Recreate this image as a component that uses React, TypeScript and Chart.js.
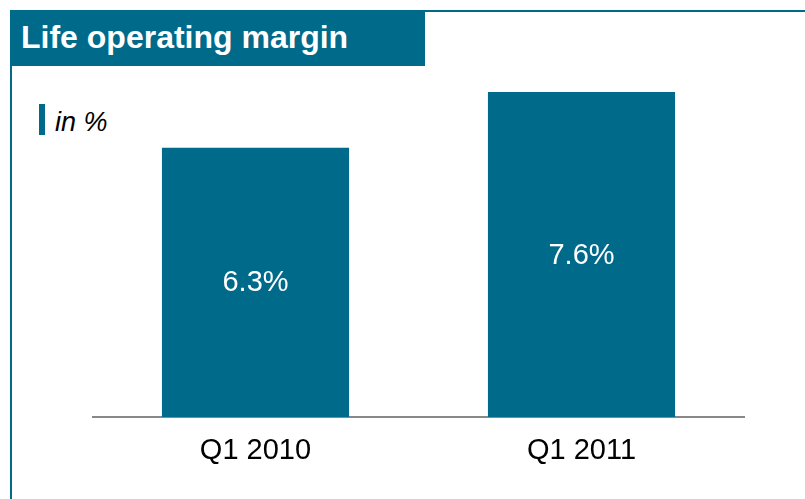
import React, { useEffect, useRef } from "react";
import { Chart, registerables } from "chart.js";

Chart.register(...registerables);

const categories = ["Q1 2010", "Q1 2011"];
const marginValues = [6.3, 7.6];
const valueLabels = ["6.3%", "7.6%"];
const titleText = "Life operating margin";
const unitText = "in %";

const TEAL = "#006a8b";
const FONT = "'Liberation Sans', Arial, Helvetica, sans-serif";

const barLabelPlugin = {
  id: "barLabels",
  afterDatasetsDraw(chart: any) {
    const ctx = chart.ctx;
    const meta = chart.getDatasetMeta(0);
    ctx.save();
    ctx.fillStyle = "#ffffff";
    ctx.font = `29px ${FONT}`;
    ctx.textAlign = "center";
    ctx.textBaseline = "middle";
    meta.data.forEach((bar: any, i: number) => {
      const p = bar.getProps(["x", "y", "base"], true);
      ctx.fillText(valueLabels[i], p.x, (p.y + p.base) / 2 + 1);
    });
    ctx.restore();
  },
};

export default function App() {
  const canvasRef = useRef<HTMLCanvasElement | null>(null);

  useEffect(() => {
    if (!canvasRef.current) return;
    const chart = new Chart(canvasRef.current, {
      type: "bar",
      data: {
        labels: categories,
        datasets: [
          {
            data: marginValues,
            backgroundColor: TEAL,
            borderWidth: 0,
            barPercentage: 0.574,
            categoryPercentage: 1,
          },
        ],
      },
      options: {
        responsive: false,
        animation: false,
        devicePixelRatio: 1,
        layout: {
          padding: { left: 92.5, right: 60.5, top: 75, bottom: 13.2 },
        },
        plugins: {
          legend: { display: false },
          tooltip: { enabled: false },
          title: { display: false },
        },
        scales: {
          x: {
            grid: { display: false, drawTicks: false },
            border: { display: true, color: "#888888", width: 2 },
            ticks: {
              color: "#000000",
              padding: 17,
              font: { family: FONT, size: 29 },
            },
          },
          y: {
            display: false,
            min: 0,
            max: 8,
          },
        },
      },
      plugins: [barLabelPlugin],
    });
    return () => chart.destroy();
  }, []);

  return (
    <div
      style={{
        position: "fixed",
        left: 0,
        top: 0,
        width: 805,
        height: 499,
        background: "#ffffff",
        overflow: "hidden",
        fontFamily: FONT,
      }}
    >
      <div
        style={{
          position: "absolute",
          left: 10,
          top: 10,
          right: 0,
          height: 2,
          background: TEAL,
        }}
      />
      <div
        style={{
          position: "absolute",
          left: 10,
          top: 10,
          width: 2,
          bottom: 0,
          background: TEAL,
        }}
      />
      <div
        style={{
          position: "absolute",
          left: 10,
          top: 10,
          width: 415,
          height: 56,
          background: TEAL,
        }}
      >
        <span
          style={{
            position: "absolute",
            left: 11,
            top: 11,
            color: "#ffffff",
            fontWeight: "bold",
            fontSize: 32,
            lineHeight: "32px",
            whiteSpace: "nowrap",
          }}
        >
          {titleText}
        </span>
      </div>
      <div
        style={{
          position: "absolute",
          left: 39,
          top: 104,
          width: 6,
          height: 31,
          background: TEAL,
        }}
      />
      <span
        style={{
          position: "absolute",
          left: 55,
          top: 109,
          color: "#000000",
          fontStyle: "italic",
          fontSize: 27,
          lineHeight: "27px",
          whiteSpace: "nowrap",
        }}
      >
        {unitText}
      </span>
      <canvas
        ref={canvasRef}
        width={805}
        height={499}
        style={{ position: "absolute", left: 0, top: 0, width: 805, height: 499 }}
      />
    </div>
  );
}
